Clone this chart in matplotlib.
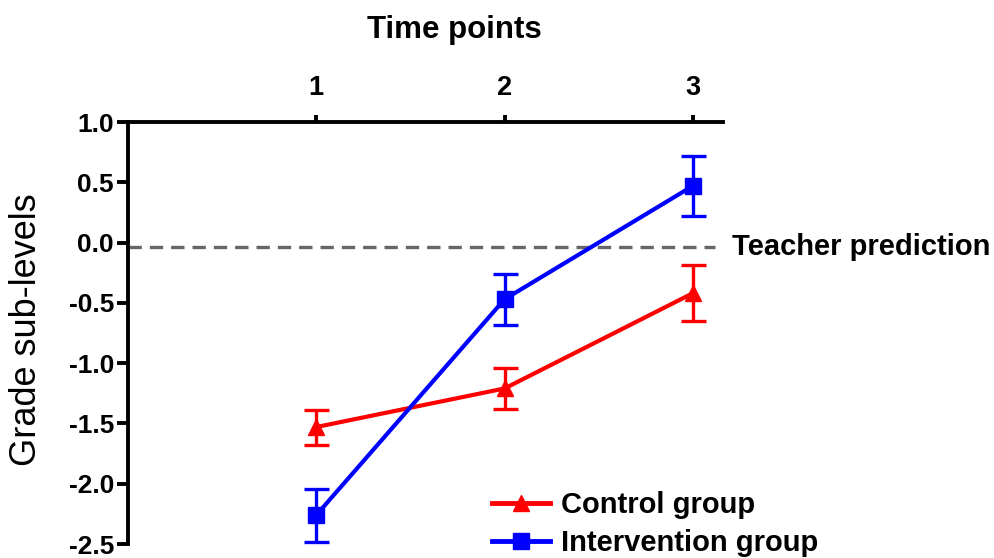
import matplotlib
matplotlib.use("Agg")
import matplotlib.pyplot as plt
from matplotlib.lines import Line2D

plt.rcParams['font.family'] = ['Liberation Sans', 'DejaVu Sans']

time_points = [1, 2, 3]
control_mean = [-1.53, -1.21, -0.42]
control_err = [0.145, 0.17, 0.23]
intervention_mean = [-2.26, -0.47, 0.47]
intervention_err = [0.22, 0.21, 0.25]
teacher_prediction = -0.04
y_ticks = [1.0, 0.5, 0.0, -0.5, -1.0, -1.5, -2.0, -2.5]
y_tick_labels = ["1.0", "0.5", "0.0", "-0.5", "-1.0", "-1.5", "-2.0", "-2.5"]

fig = plt.figure(figsize=(9.94, 5.58), dpi=100)
ax = fig.add_axes([128/994, 1-544/558, (723-128)/994, (544-122)/558])

ax.plot([0, 3.12], [teacher_prediction]*2, color='#666666', lw=2.4,
        dashes=(4, 2.4), zorder=1, clip_on=False)

ax.errorbar(time_points, control_mean, yerr=control_err, color='#ff0000',
            lw=3, marker='^', ms=11, capsize=9, capthick=2.4, elinewidth=2.4,
            zorder=3, clip_on=False)
ax.errorbar(time_points, intervention_mean, yerr=intervention_err, color='#0000ff',
            lw=3, marker='s', ms=11, capsize=9, capthick=2.4, elinewidth=2.4,
            zorder=4, clip_on=False)

ax.set_xlim(0, 3.16)
ax.set_ylim(-2.5, 1.0)
ax.spines['bottom'].set_visible(False)
ax.spines['right'].set_visible(False)
ax.spines['left'].set_linewidth(2.8)
ax.spines['top'].set_linewidth(2.8)
ax.xaxis.tick_top()
ax.set_xticks(time_points)
ax.set_xticklabels([str(t) for t in time_points], fontsize=19.5, fontweight='bold')
ax.set_yticks(y_ticks)
ax.set_yticklabels(y_tick_labels, fontsize=19, fontweight='bold')
ax.tick_params(axis='y', direction='out', length=8, width=2.8, pad=2)
ax.tick_params(axis='x', direction='out', length=5, width=2.8, pad=10)

fig.text(454/994, 1-30/558, "Time points", fontsize=22.5, fontweight='bold',
         ha='center', va='center')
fig.text(27/994, 1-330/558, "Grade sub-levels", fontsize=26,
         rotation=90, ha='center', va='center')
ax.text(732/994, teacher_prediction, "Teacher prediction", fontsize=21, fontweight='bold',
        transform=matplotlib.transforms.blended_transform_factory(fig.transFigure, ax.transData),
        ha='left', va='center', clip_on=False)

handles = [Line2D([], [], color='#ff0000', lw=3.5, marker='^', ms=11),
           Line2D([], [], color='#0000ff', lw=3.5, marker='s', ms=11)]
fig.legend(handles, ["Control group", "Intervention group"], loc='center left',
           bbox_to_anchor=(492/994, 1-524/558), frameon=False,
           prop={'weight': 'bold', 'size': 21}, handlelength=2.0, handletextpad=0.35,
           labelspacing=0.35, borderpad=0, borderaxespad=0)

fig.savefig("out.png", dpi=100)
